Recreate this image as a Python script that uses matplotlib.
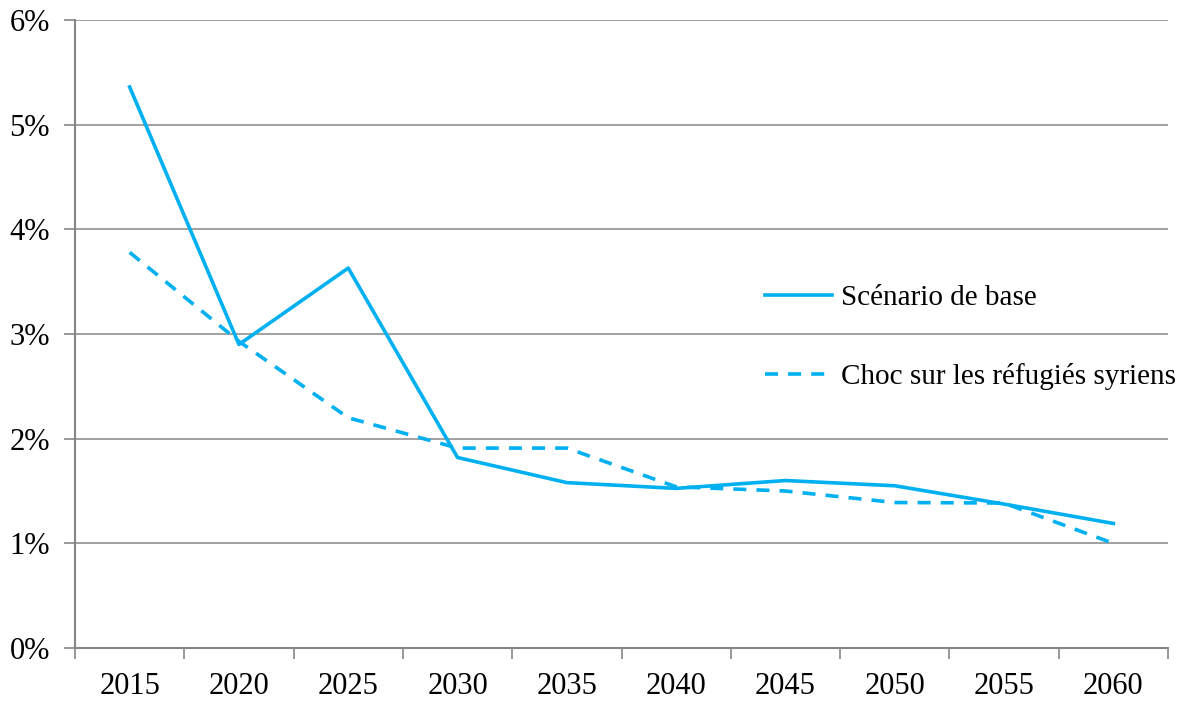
import numpy as np
import matplotlib.pyplot as plt
from matplotlib.ticker import FixedLocator, PercentFormatter

years = ['2015', '2020', '2025', '2030', '2035', '2040', '2045', '2050', '2055', '2060']
base = [5.36, 2.90, 3.63, 1.82, 1.58, 1.525, 1.60, 1.55, 1.375, 1.19]
choc = [3.78, 2.93, 2.20, 1.91, 1.91, 1.54, 1.50, 1.39, 1.385, 1.00]
y_ticks = [0, 1, 2, 3, 4, 5, 6]

plt.rcParams['font.family'] = ['Liberation Serif', 'DejaVu Serif']

color = '#00B0F0'
grey = '#868686'

fig = plt.figure(figsize=(11.88, 7.01), dpi=100)
ax = fig.add_axes([75 / 1188, 53 / 701, 1093 / 1188, 628 / 701])

x = np.arange(len(years))
ax.plot(x, base, color=color, lw=2.6, label='Scénario de base')
ax.plot(x, choc, color=color, lw=2.6, dashes=(3.6, 2.8), label='Choc sur les réfugiés syriens')

ax.set_xlim(-0.5, len(years) - 0.5)
ax.set_ylim(0, 6)
ax.set_xticks(x)
ax.set_xticklabels(years)
ax.xaxis.set_minor_locator(FixedLocator(np.arange(-0.5, len(years), 1.0)))
ax.tick_params(axis='x', which='major', length=0, pad=17, labelsize=22)
ax.tick_params(axis='x', which='minor', length=8, color=grey, width=1.2, direction='out')
ax.set_yticks(y_ticks)
ax.yaxis.set_major_formatter(PercentFormatter(decimals=0))
ax.tick_params(axis='y', length=8, color=grey, width=1.2, pad=10, labelsize=22)

ax.grid(axis='y', color=grey, lw=1.1)
ax.set_axisbelow(True)
for side in ['top', 'right']:
    ax.spines[side].set_visible(False)
for side in ['left', 'bottom']:
    ax.spines[side].set_color(grey)
    ax.spines[side].set_linewidth(1.5)

ax.legend(loc='upper left', bbox_to_anchor=(0.631, 0.578), frameon=False,
          fontsize=21, handlelength=2.3, handletextpad=0.3, labelspacing=1.78,
          borderaxespad=0, borderpad=0)

fig.savefig('out.png', dpi=100)
